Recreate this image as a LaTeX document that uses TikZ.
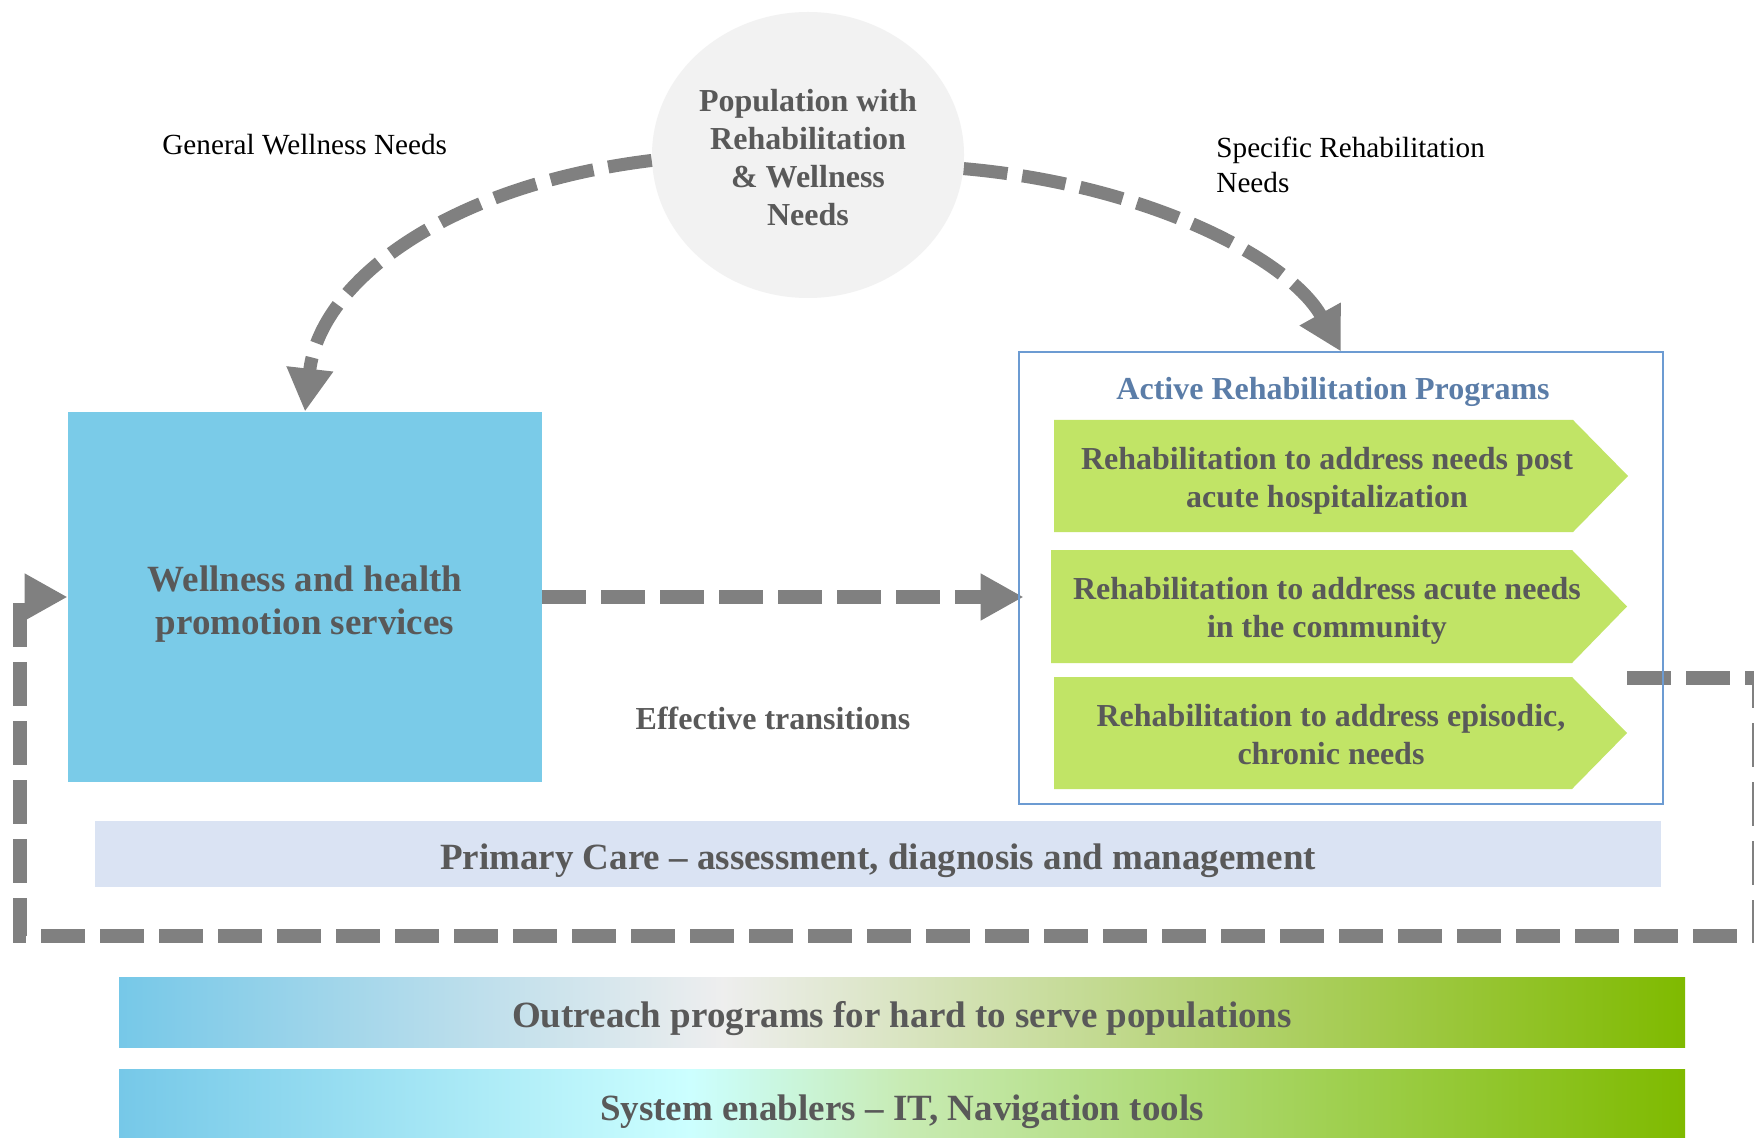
\documentclass[tikz,border=0pt]{standalone}
\usepackage{fontspec}
\setmainfont{Liberation Serif}
\usetikzlibrary{arrows.meta,shapes.geometric}
\definecolor{txtgray}{HTML}{595959}
\definecolor{dashgray}{HTML}{808080}
\definecolor{wellblue}{HTML}{7ACBE8}
\definecolor{popgray}{HTML}{F2F2F2}
\definecolor{rehabgreen}{HTML}{C1E466}
\definecolor{arpborder}{HTML}{6C9BD2}
\definecolor{arptitle}{HTML}{5B7DA8}
\definecolor{pcfill}{HTML}{DAE3F3}
\definecolor{gblue}{HTML}{76C8E8}
\definecolor{ggray}{HTML}{EEEEEE}
\definecolor{ggreen}{HTML}{7FBA00}
\definecolor{gcyan}{HTML}{CCFFFF}
\definecolor{glgreen}{HTML}{C8EBB4}
\tikzset{
  ftsixteen/.style={font=\fontsize{16pt}{19pt}\selectfont\bfseries, text=txtgray},
  ftbig/.style={font=\fontsize{18.5pt}{21.5pt}\selectfont\bfseries, text=txtgray},
  ftlabel/.style={font=\fontsize{14.6pt}{17.2pt}\selectfont, text=black, inner sep=0pt},
  flowline/.style={draw=dashgray, line width=7pt, dash pattern=on 22pt off 7.5pt,
    -{Triangle[length=21.5pt,width=22pt]}},
  curveline/.style={flowline, line width=6.5pt},
  rehabshape/.style={fill=rehabgreen},
}
\begin{document}
\begin{tikzpicture}[x=0.5pt,y=-0.5pt]
\useasboundingbox (0,0) rectangle (1754,1138);
\clip (0,0) rectangle (1754,1138);
\fill[white] (0,0) rectangle (1754,1138);

% population ellipse
\node[ellipse, fill=popgray, minimum width=156pt, minimum height=143pt, inner sep=0pt] (pop) at (808,155) {};
\node[align=center, ftsixteen] (poptext) at (808,158)
  {Population with\\Rehabilitation\\\& Wellness\\Needs};

% wellness box
\node[rectangle, fill=wellblue, minimum width=237pt, minimum height=185pt, inner sep=0pt] (well) at (305,597) {};
\node[align=center, ftbig] (welltext) at (305,604) {Wellness and health\\promotion services};

% active rehabilitation programs container (border drawn later)
\node[rectangle, minimum width=322pt, minimum height=226pt, inner sep=0pt] (arp) at (1341,578) {};
\node[anchor=base, ftsixteen, text=arptitle] (arptitle) at (1333,400) {Active Rehabilitation Programs};

% green arrow-shaped boxes
\fill[rehabshape] (1054,420) -- (1573,420) -- (1628,476) -- (1573,532) -- (1054,532) -- cycle;
\fill[rehabshape] (1051,550) -- (1572,550) -- (1627,606.5) -- (1572,663) -- (1051,663) -- cycle;
\fill[rehabshape] (1054,677) -- (1572,677) -- (1627,733) -- (1572,789) -- (1054,789) -- cycle;
\node[align=center, ftsixteen] (rone) at (1327,481)
  {Rehabilitation to address needs post\\acute hospitalization};
\node[align=center, ftsixteen] (rtwo) at (1327,611)
  {Rehabilitation to address acute needs\\in the community};
\node[align=center, ftsixteen] (rthree) at (1331,735)
  {Rehabilitation to address episodic,\\chronic needs};

% labels
\node[anchor=base west, ftlabel] (gwn) at (162,155) {General Wellness Needs};
\node[anchor=west, align=left, ftlabel] (srn) at (1216,165) {Specific Rehabilitation\\Needs};
\node[anchor=base, ftsixteen] (eff) at (773,729) {Effective transitions};

% primary care bar
\node[rectangle, fill=pcfill, minimum width=783pt, minimum height=33pt, inner sep=0pt] (pc) at (878,854) {};
\node[anchor=base, ftbig] (pctext) at (878,869) {Primary Care \textendash{} assessment, diagnosis and management};

% outreach bar
\shade[left color=gblue, right color=ggray] (119,977) rectangle (723,1047);
\shade[left color=ggray, right color=ggreen] (722,977) rectangle (1685,1047);
\node[rectangle, minimum width=783pt, minimum height=35pt, inner sep=0pt] (outreach) at (902,1012) {};
\node[anchor=base, ftbig] (outtext) at (902,1027) {Outreach programs for hard to serve populations};

% system enablers bar
\shade[left color=gblue, right color=gcyan] (119,1069) rectangle (691,1140);
\shade[left color=gcyan, right color=glgreen] (690,1069) rectangle (903,1140);
\shade[left color=glgreen, right color=ggreen] (902,1069) rectangle (1685,1140);
\node[rectangle, minimum width=783pt, minimum height=35pt, inner sep=0pt] (sysbar) at (902,1104) {};
\node[anchor=base, ftbig] (systext) at (902,1120) {System enablers \textendash{} IT, Navigation tools};

% connectors
\draw[curveline] (pop.182) .. controls (450,185) and (320,280) .. (well.north);
\draw[curveline] (pop.355) .. controls (1150,185) and (1290,260) .. (arp.north);
\draw[flowline] (well.east) -- ([xshift=2.5pt]arp.west |- well.east);

\coordinate (fbzero) at (1627,677.5);
\coordinate (fbone) at (1759,677.5);
\coordinate (fbtwo) at (1759,936);
\coordinate (fbthree) at (20,936);
\coordinate (fbfour) at (20,597);
\draw[flowline] (fbzero) -- (fbone) -- (fbtwo) -- (fbthree) -- (fbfour) -- (well.west);

% container border on top
\draw[arpborder, line width=1pt] (arp.south west) rectangle (arp.north east);
\end{tikzpicture}
\end{document}
